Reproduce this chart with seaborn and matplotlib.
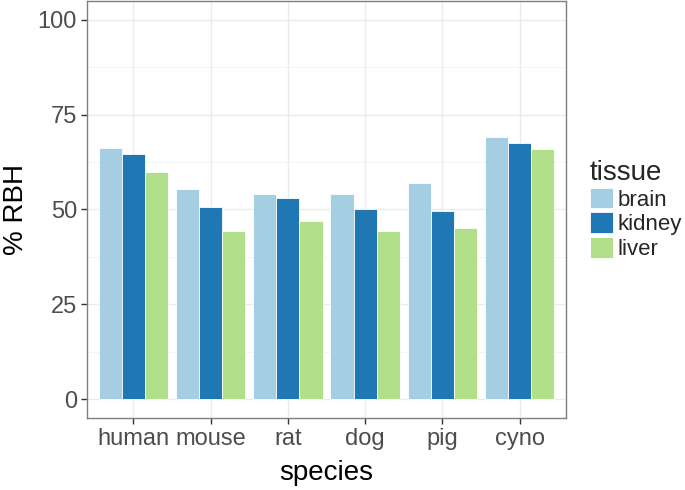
import matplotlib
matplotlib.use("Agg")
import matplotlib.pyplot as plt
from matplotlib.patches import Patch
from matplotlib.ticker import MultipleLocator
import seaborn as sns
import pandas as pd

species = ["human", "mouse", "rat", "dog", "pig", "cyno"]
tissues = ["brain", "kidney", "liver"]
brain = [66.3, 55.3, 54.2, 54.2, 56.9, 69.1]
kidney = [64.7, 50.7, 53.1, 50.2, 49.6, 67.5]
liver = [59.8, 44.3, 46.9, 44.4, 45.1, 66.0]
colors = ["#A6CEE3", "#1F78B4", "#B2DF8A"]
y_ticks = [0, 25, 50, 75, 100]

rows = []
for t, vals in zip(tissues, [brain, kidney, liver]):
    for s, v in zip(species, vals):
        rows.append({"species": s, "tissue": t, "rbh": v})
df = pd.DataFrame(rows)

sns.set_theme(style="white")
plt.rcParams["font.family"] = ["Liberation Sans", "DejaVu Sans"]

fig = plt.figure(figsize=(6.85, 4.9), dpi=100)
ax = fig.add_axes([87 / 685, (490 - 418) / 490, (566 - 87) / 685, (418 - 1) / 490])

sns.barplot(data=df, x="species", y="rbh", hue="tissue", order=species,
            hue_order=tissues, palette=colors, saturation=1, width=0.9, gap=0,
            edgecolor="white", linewidth=0.6, ax=ax, legend=False, zorder=3)

ax.set_xlim(-0.6, 5.6)
ax.set_ylim(-5, 105)
ax.set_yticks(y_ticks)
ax.yaxis.set_minor_locator(MultipleLocator(12.5))
ax.grid(True, which="major", color="#EBEBEB", linewidth=1.0, zorder=0)
ax.grid(True, which="minor", axis="y", color="#F2F2F2", linewidth=0.6, zorder=0)
ax.set_axisbelow(True)
for sp in ax.spines.values():
    sp.set_color("#7F7F7F")
    sp.set_linewidth(1.0)
    sp.set_visible(True)

ax.tick_params(axis="both", which="major", length=4.3, width=1, color="#333333",
               labelsize=17, labelcolor="#4D4D4D", direction="out", pad=3,
               bottom=True, left=True)
ax.tick_params(axis="both", which="minor", length=0)
ax.set_xlabel("species", fontsize=20, color="black", labelpad=7)
ax.set_ylabel("% RBH", fontsize=20, color="black", labelpad=6)

handles = [Patch(facecolor=c, edgecolor="white", linewidth=0.6) for c in colors]
leg = fig.legend(handles, tissues, title="tissue", loc="upper left",
                 bbox_to_anchor=(590 / 685, 1 - 160 / 490), frameon=False,
                 fontsize=16, title_fontsize=20, handlelength=1.05,
                 handleheight=1.05, labelspacing=0.08, handletextpad=0.2,
                 borderaxespad=0, borderpad=0)
leg._legend_box.align = "left"

fig.savefig("out.png", dpi=100)
